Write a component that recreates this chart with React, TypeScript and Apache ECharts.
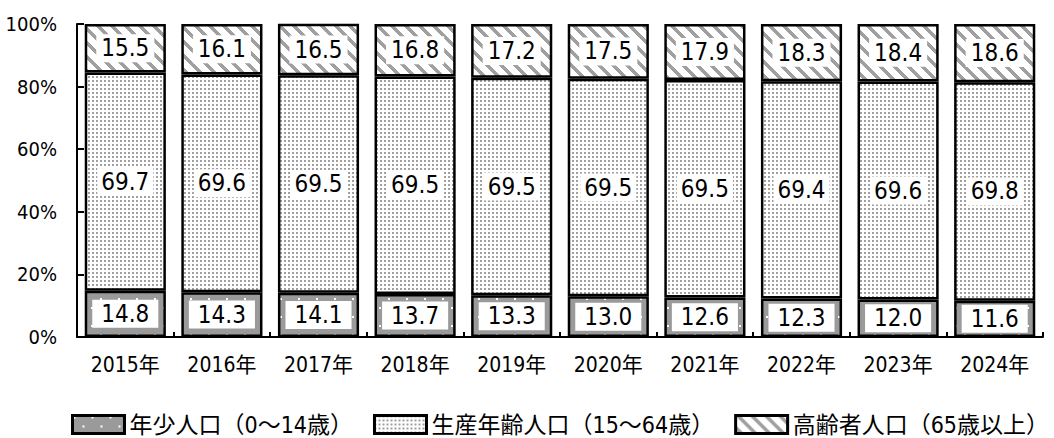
import React, { useEffect, useRef } from "react";
import * as echarts from "echarts";

const years = ["2015年", "2016年", "2017年", "2018年", "2019年", "2020年", "2021年", "2022年", "2023年", "2024年"];
const young = [14.8, 14.3, 14.1, 13.7, 13.3, 13.0, 12.6, 12.3, 12.0, 11.6];
const working = [69.7, 69.6, 69.5, 69.5, 69.5, 69.5, 69.5, 69.4, 69.6, 69.8];
const elderly = [15.5, 16.1, 16.5, 16.8, 17.2, 17.5, 17.9, 18.3, 18.4, 18.6];
const seriesNames = ["年少人口（0～14歳）", "生産年齢人口（15～64歳）", "高齢者人口（65歳以上）"];

const NARROW = "'Liberation Sans Narrow', 'DejaVu Sans Condensed', 'Noto Sans CJK JP', sans-serif";

function makePattern(w: number, h: number, draw: (ctx: CanvasRenderingContext2D) => void) {
  const c = document.createElement("canvas");
  c.width = w;
  c.height = h;
  const ctx = c.getContext("2d") as CanvasRenderingContext2D;
  draw(ctx);
  return { image: c.toDataURL(), repeat: "repeat", imageWidth: w, imageHeight: h };
}

export default function App() {
  const ref = useRef<HTMLDivElement>(null);
  useEffect(() => {
    if (!ref.current) return;
    const chart = echarts.init(ref.current, undefined, { renderer: "svg" });

    const youngPat = makePattern(18, 18, (ctx) => {
      ctx.fillStyle = "#9a9a9a";
      ctx.fillRect(0, 0, 18, 18);
      ctx.fillStyle = "#ffffff";
      ctx.fillRect(1, 1, 2, 2);
      ctx.fillRect(10, 10, 2, 2);
    });
    const workPat = makePattern(4, 4, (ctx) => {
      ctx.fillStyle = "#ffffff";
      ctx.fillRect(0, 0, 4, 4);
      ctx.fillStyle = "#a0a0a0";
      ctx.fillRect(0, 0, 2, 2);
    });
    const P = 14;
    const eldPat = makePattern(P, P, (ctx) => {
      ctx.fillStyle = "#ffffff";
      ctx.fillRect(0, 0, P, P);
      ctx.fillStyle = "#a0a0a0";
      for (let y = 0; y < P; y++) {
        for (let x = 0; x < P; x++) {
          if ((((x - y) % P) + P) % P < 5) ctx.fillRect(x, y, 1, 1);
        }
      }
    });

    const labelBase = {
      show: true,
      position: "inside",
      color: "#000",
      backgroundColor: "#fff",
      fontSize: 24,
      fontFamily: NARROW,
      lineHeight: 24,
      formatter: (p: any) => Number(p.value).toFixed(1),
    };

    const mk = (name: string, data: number[], pat: any, pad: number[]) => ({
      name,
      type: "bar",
      stack: "total",
      data,
      barWidth: "84%",
      itemStyle: { color: pat, borderColor: "#000", borderWidth: 2.5 },
      label: { ...labelBase, padding: pad },
      emphasis: { disabled: true },
    });

    chart.setOption({
      animation: false,
      grid: { left: 77, right: 11, top: 24, bottom: 101, containLabel: false },
      legend: {
        left: 71,
        top: 413,
        width: 983,
        itemWidth: 52,
        itemHeight: 18,
        itemGap: 20,
        icon: "rect",
        padding: 0,
        itemStyle: { borderColor: "#000", borderWidth: 3 },
        textStyle: { fontSize: 23, color: "#000", fontFamily: NARROW },
        data: [
          { name: seriesNames[0], textStyle: { width: 243 } },
          { name: seriesNames[1], textStyle: { width: 287 } },
          { name: seriesNames[2] },
        ],
      },
      xAxis: {
        type: "category",
        data: years,
        axisLine: { show: true, lineStyle: { color: "#000", width: 2 } },
        axisTick: { show: true, inside: true, length: 5, lineStyle: { color: "#000", width: 2 } },
        axisLabel: { fontSize: 21, color: "#000", margin: 17, fontFamily: NARROW },
      },
      yAxis: {
        type: "value",
        min: 0,
        max: 100,
        interval: 20,
        axisLine: { show: true, lineStyle: { color: "#000", width: 2 } },
        axisTick: { show: true, inside: true, length: 7, lineStyle: { color: "#000", width: 2 } },
        axisLabel: { fontSize: 20, color: "#000", margin: 20, fontFamily: NARROW, formatter: "{value}%" },
        splitLine: { show: false },
      },
      series: [
        mk(seriesNames[0], young, youngPat, [2, 9]),
        mk(seriesNames[1], working, workPat, [2, 4]),
        mk(seriesNames[2], elderly, eldPat, [2, 5]),
      ],
    });
    return () => chart.dispose();
  }, []);
  return <div ref={ref} style={{ position: "fixed", left: 0, top: 0, width: 1054, height: 438, background: "#fff" }} />;
}
